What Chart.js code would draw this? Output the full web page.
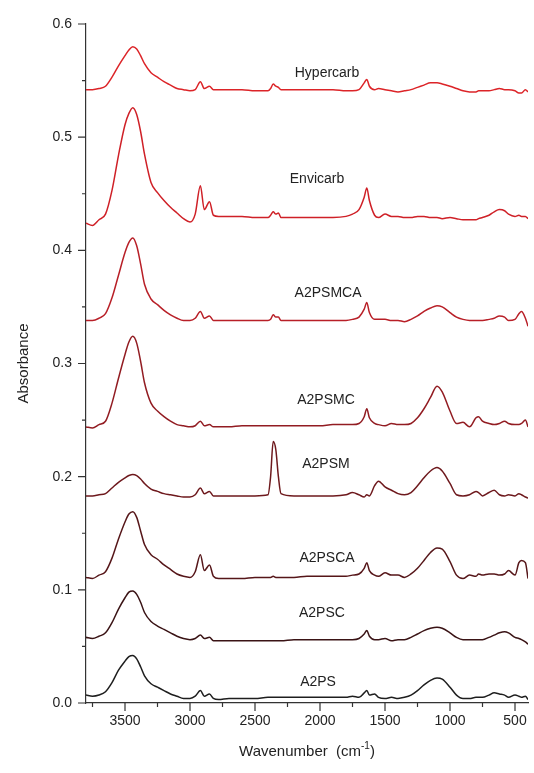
<!DOCTYPE html>
<html>
<head>
<meta charset="utf-8">
<script src="https://cdn.jsdelivr.net/npm/chart.js@4.4.1/dist/chart.umd.min.js"></script>
<style>
  html, body { margin: 0; padding: 0; background: #fff; }
  #wrap { width: 534px; height: 773px; position: relative; }
</style>
</head>
<body>
<div id="wrap"><canvas id="ftir" width="534" height="773"></canvas></div>
<script>
// wavenumber grid (cm-1), shared by every spectrum
const wavenumbers = [
  3800, 3750, 3700, 3650, 3600, 3550, 3500, 3470, 3440, 3410,
  3380, 3350, 3300, 3250, 3200, 3150, 3100, 3050, 3000, 2960,
  2920, 2890, 2850, 2820, 2780, 2700, 2600, 2500, 2400, 2380,
  2360, 2340, 2320, 2300, 2200, 2100, 2000, 1900, 1800, 1750,
  1700, 1660, 1640, 1620, 1580, 1550, 1500, 1450, 1400, 1350,
  1300, 1250, 1200, 1150, 1100, 1060, 1000, 950, 900, 850,
  800, 780, 750, 700, 660, 620, 580, 550, 500, 470,
  450, 420, 400
];

const hypercarb = [
  .542,.542,.543,.545,.553,.563,.572,.577,.580,.578,
  .572,.565,.557,.553,.549,.546,.543,.542,.541,.542,
  .549,.543,.545,.542,.542,.542,.542,.541,.541,.543,
  .547,.545,.544,.542,.542,.542,.542,.542,.541,.541,
  .542,.548,.551,.545,.542,.543,.542,.541,.540,.541,
  .542,.544,.546,.548,.548,.547,.545,.543,.541,.540,
  .540,.541,.541,.541,.542,.543,.542,.542,.541,.539,
  .539,.542,.540
];
const envicarb = [
  .424,.422,.427,.432,.453,.484,.511,.521,.526,.520,
  .505,.485,.460,.451,.444,.438,.433,.428,.425,.432,
  .457,.436,.443,.431,.430,.430,.430,.429,.429,.431,
  .434,.432,.433,.429,.429,.429,.429,.429,.430,.432,
  .436,.447,.455,.444,.431,.429,.432,.430,.430,.429,
  .429,.430,.430,.429,.429,.428,.429,.428,.427,.427,
  .427,.428,.429,.431,.434,.436,.435,.432,.430,.431,
  .430,.430,.428
];
const a2psmca = [
  .338,.338,.340,.344,.358,.378,.398,.407,.411,.404,
  .388,.370,.357,.352,.347,.343,.340,.338,.338,.340,
  .346,.340,.342,.338,.338,.338,.338,.338,.338,.339,
  .343,.341,.341,.338,.338,.338,.338,.338,.338,.339,
  .341,.348,.354,.345,.339,.339,.339,.338,.338,.337,
  .339,.342,.346,.349,.351,.350,.345,.341,.339,.338,
  .338,.338,.338,.339,.340,.342,.341,.338,.339,.344,
  .346,.340,.333
];
const a2psmc = [
  .244,.243,.246,.249,.265,.287,.308,.319,.324,.318,
  .302,.283,.265,.258,.253,.249,.246,.245,.244,.245,
  .249,.245,.246,.244,.244,.244,.245,.245,.245,.245,
  .245,.245,.245,.245,.245,.245,.245,.246,.246,.246,
  .247,.253,.260,.252,.247,.246,.245,.247,.246,.246,
  .247,.252,.260,.270,.280,.275,.258,.247,.248,.244,
  .252,.253,.249,.247,.246,.247,.249,.247,.246,.246,
  .247,.250,.244
];
const a2psm = [
  .183,.183,.184,.185,.190,.195,.199,.201,.202,.201,
  .198,.194,.189,.187,.185,.184,.183,.182,.182,.184,
  .190,.185,.187,.183,.183,.183,.183,.183,.184,.200,
  .231,.224,.200,.185,.183,.183,.183,.183,.184,.186,
  .184,.182,.184,.183,.192,.196,.191,.188,.185,.184,
  .186,.192,.199,.205,.208,.205,.194,.184,.183,.184,
  .187,.186,.183,.186,.188,.184,.183,.184,.183,.185,
  .184,.182,.181
];
const a2psca = [
  .111,.110,.113,.116,.128,.145,.160,.167,.169,.164,
  .152,.140,.131,.127,.122,.118,.114,.112,.111,.116,
  .131,.117,.122,.112,.110,.110,.110,.111,.111,.111,
  .112,.111,.111,.111,.111,.112,.112,.112,.112,.113,
  .114,.119,.124,.117,.113,.112,.115,.113,.113,.111,
  .114,.119,.126,.133,.137,.136,.125,.113,.110,.113,
  .112,.114,.113,.114,.114,.113,.114,.117,.113,.124,
  .126,.124,.110
];
const a2psc = [
  .058,.057,.059,.062,.071,.083,.093,.098,.099,.096,
  .089,.080,.072,.068,.065,.062,.059,.057,.056,.057,
  .060,.057,.058,.055,.055,.055,.055,.055,.055,.055,
  .055,.055,.055,.055,.056,.056,.056,.056,.056,.056,
  .057,.061,.064,.059,.056,.056,.057,.055,.056,.056,
  .058,.061,.064,.066,.067,.066,.062,.058,.056,.056,
  .056,.056,.056,.058,.060,.062,.063,.062,.058,.057,
  .056,.054,.052
];
const a2ps = [
  .007,.006,.007,.010,.018,.029,.037,.041,.042,.039,
  .032,.024,.017,.014,.011,.008,.006,.004,.004,.006,
  .011,.006,.008,.004,.003,.004,.004,.004,.005,.005,
  .005,.005,.005,.005,.005,.005,.005,.005,.005,.006,
  .005,.009,.011,.007,.008,.005,.004,.005,.004,.005,
  .007,.011,.016,.020,.022,.021,.014,.007,.004,.004,
  .005,.005,.005,.007,.009,.008,.007,.005,.007,.006,
  .005,.006,.003
];

const sampleNames = ["Hypercarb", "Envicarb", "A2PSMCA", "A2PSMC", "A2PSM", "A2PSCA", "A2PSC", "A2PS"];
const spectra = [hypercarb, envicarb, a2psmca, a2psmc, a2psm, a2psca, a2psc, a2ps];
const lineColors = ["#dc2428", "#cf2027", "#b81f27", "#921c22", "#6e191d", "#561619", "#3a1315", "#1e1e1e"];

// where each sample name sits (wavenumber, absorbance)
const nameAtWave = [1946, 2023, 1938, 1954, 1954, 1946, 1985, 2015];
const nameAtAbs = [0.557, 0.463, 0.362, 0.268, 0.211, 0.128, 0.079, 0.0185];

const xMajorTicks = [3500, 3000, 2500, 2000, 1500, 1000, 500];
const xMinorTicks = [3750, 3250, 2750, 2250, 1750, 1250, 750];
const yMajorTicks = [0, 0.1, 0.2, 0.3, 0.4, 0.5, 0.6];
const yMinorTicks = [0.05, 0.15, 0.25, 0.35, 0.45, 0.55];

const FONT = "'Liberation Sans', Arial, sans-serif";
const INK = "#222";

const decor = {
  id: "decor",
  afterDraw(chart) {
    const { ctx, scales: { x, y } } = chart;
    const area = chart.chartArea;
    ctx.save();
    ctx.strokeStyle = "#333";
    ctx.lineWidth = 1.2;
    ctx.beginPath();
    xMajorTicks.forEach((v) => { const px = x.getPixelForValue(v); ctx.moveTo(px, area.bottom); ctx.lineTo(px, area.bottom + 8); });
    xMinorTicks.forEach((v) => { const px = x.getPixelForValue(v); ctx.moveTo(px, area.bottom); ctx.lineTo(px, area.bottom + 4); });
    yMajorTicks.forEach((v) => { const py = y.getPixelForValue(v); ctx.moveTo(area.left, py); ctx.lineTo(area.left - 8, py); });
    yMinorTicks.forEach((v) => { const py = y.getPixelForValue(v); ctx.moveTo(area.left, py); ctx.lineTo(area.left - 4, py); });
    ctx.stroke();

    // sample names
    ctx.fillStyle = INK;
    ctx.font = "14px " + FONT;
    ctx.textAlign = "center";
    ctx.textBaseline = "middle";
    sampleNames.forEach((name, i) => {
      ctx.fillText(name, x.getPixelForValue(nameAtWave[i]), y.getPixelForValue(nameAtAbs[i]));
    });

    // axis titles
    ctx.font = "15px " + FONT;
    ctx.save();
    ctx.translate(24, (area.top + area.bottom) / 2);
    ctx.rotate(-Math.PI / 2);
    ctx.fillText("Absorbance", 0, 0);
    ctx.restore();

    const main = "Wavenumber  (cm";
    ctx.font = "15px " + FONT;
    const wMain = ctx.measureText(main).width;
    ctx.font = "10px " + FONT;
    const wSup = ctx.measureText("-1").width;
    ctx.font = "15px " + FONT;
    const wEnd = ctx.measureText(")").width;
    let left = (area.left + area.right) / 2 - (wMain + wSup + wEnd) / 2;
    ctx.textAlign = "left";
    ctx.fillText(main, left, 752);
    ctx.font = "10px " + FONT;
    ctx.fillText("-1", left + wMain, 746);
    ctx.font = "15px " + FONT;
    ctx.fillText(")", left + wMain + wSup, 752);
    ctx.restore();
  }
};

new Chart(document.getElementById("ftir"), {
  type: "line",
  data: {
    datasets: spectra.map((vals, i) => ({
      label: sampleNames[i],
      data: vals.map((v, j) => ({ x: wavenumbers[j], y: v })),
      borderColor: lineColors[i],
      borderWidth: 1.5,
      pointRadius: 0,
      cubicInterpolationMode: "monotone",
      fill: false
    }))
  },
  options: {
    responsive: false,
    animation: false,
    layout: { padding: { top: 24, right: 6, left: 0, bottom: 0 } },
    plugins: { legend: { display: false }, tooltip: { enabled: false } },
    scales: {
      x: {
        type: "linear",
        reverse: true,
        min: 400,
        max: 3800,
        grid: { display: false, drawTicks: false },
        border: { display: true, color: "#333", width: 1.2 },
        ticks: {
          autoSkip: false,
          maxRotation: 0,
          padding: 10,
          color: INK,
          font: { family: FONT, size: 14 },
          callback: (v) => String(v)
        },
        afterBuildTicks(scale) { scale.ticks = xMajorTicks.map((v) => ({ value: v })); },
        afterFit(scale) {
          scale.height = 70;
          scale.paddingLeft = 0;
          scale.paddingRight = 0;
        }
      },
      y: {
        min: 0,
        max: 0.6,
        grid: { display: false, drawTicks: false },
        border: { display: true, color: "#333", width: 1.2 },
        ticks: {
          padding: 14,
          color: INK,
          font: { family: FONT, size: 14 },
          callback: (v) => v.toFixed(1)
        },
        afterBuildTicks(scale) { scale.ticks = yMajorTicks.map((v) => ({ value: v })); },
        afterFit(scale) { scale.width = 86; }
      }
    }
  },
  plugins: [decor]
});
</script>
</body>
</html>
